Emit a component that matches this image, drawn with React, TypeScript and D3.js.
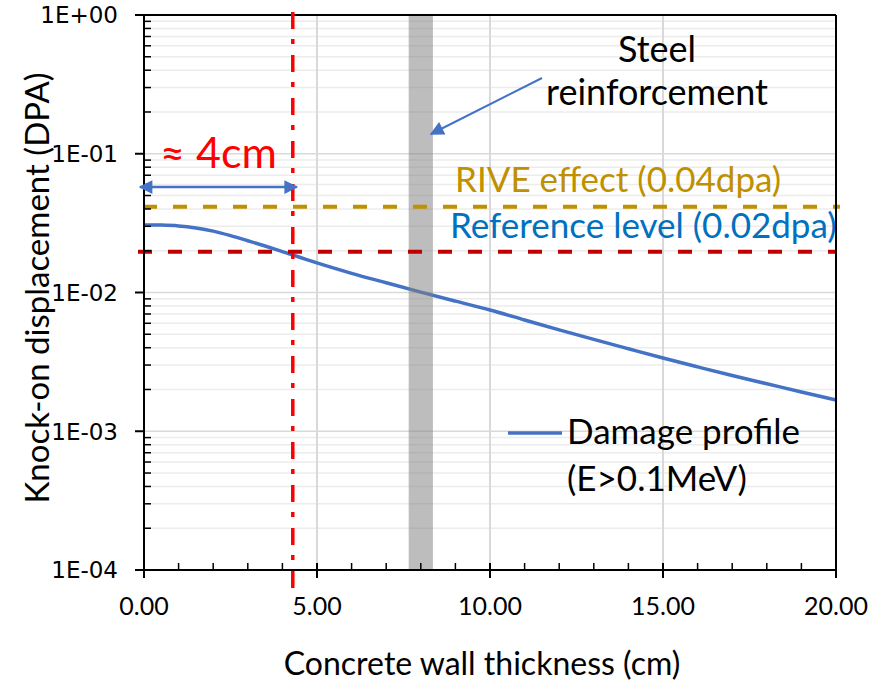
import React from 'react';
import * as d3 from 'd3';

const thickness = [0, 0.5, 1, 1.5, 2, 2.5, 3, 3.5, 4, 4.5, 5, 6, 7, 8, 9, 10, 11, 12, 13, 14, 15, 16, 17, 18, 19, 20];
const damage = [0.0307, 0.0306, 0.0302, 0.0292, 0.0277, 0.0257, 0.0236, 0.02163, 0.01972, 0.01795, 0.01633, 0.01374, 0.01175, 0.01007, 0.00867, 0.00748, 0.00634, 0.00538, 0.00459, 0.00393, 0.00337, 0.00291, 0.00252, 0.0022, 0.00192, 0.00168];
const xTicks = [0, 5, 10, 15, 20];
const xTickLabels = ['0.00', '5.00', '10.00', '15.00', '20.00'];
const yTicks = [1, 0.1, 0.01, 0.001, 0.0001];
const yTickLabels = ['1E+00', '1E-01', '1E-02', '1E-03', '1E-04'];
const rebarRange = [7.65, 8.35];
const rangeMarker = 4.3;
const riveLevel = 0.0415;
const refLevel = 0.0197;

const W = 881;
const H = 685;
const L = 144, R = 836, T = 15, B = 570;
const FONT = 'Lato, "Open Sans", sans-serif';

export default function App() {
  const x = d3.scaleLinear().domain([0, 20]).range([L, R]);
  const y = d3.scaleLog().domain([0.0001, 1]).range([B, T]);

  const minorY: number[] = [];
  for (let e = -4; e < 0; e++) {
    for (let m = 2; m <= 9; m++) minorY.push(m * Math.pow(10, e));
  }
  const minorX = d3.range(0, 21, 1).filter((v) => v % 5 !== 0);

  const line = d3
    .line<number>()
    .x((_, i) => x(thickness[i]))
    .y((d) => y(d))
    .curve(d3.curveMonotoneX);

  const blue = '#4472c4';

  return (
    <svg width={W} height={H} style={{ position: 'absolute', left: 0, top: 0, background: '#fff' }} fontFamily={FONT}>
      <defs>
        <marker id="ah" viewBox="0 0 10 10" refX="9" refY="5" markerWidth="6.5" markerHeight="5.5" orient="auto-start-reverse" markerUnits="strokeWidth">
          <path d="M0,0 L10,5 L0,10 z" fill={blue} />
        </marker>
        <marker id="ah2" viewBox="0 0 10 10" refX="9" refY="5" markerWidth="8" markerHeight="7" orient="auto" markerUnits="strokeWidth">
          <path d="M0,0 L10,5 L0,10 z" fill={blue} />
        </marker>
      </defs>
      <rect x={0} y={0} width={W} height={H} fill="#fff" />
      {minorY.map((v) => (
        <line key={'gy' + v} x1={L} x2={R} y1={y(v)} y2={y(v)} stroke="#ececec" strokeWidth={1.5} />
      ))}
      {yTicks.map((v) => (
        <line key={'gY' + v} x1={L} x2={R} y1={y(v)} y2={y(v)} stroke="#d9d9d9" strokeWidth={1.5} />
      ))}
      {xTicks.slice(1, -1).map((v) => (
        <line key={'gx' + v} x1={x(v)} x2={x(v)} y1={T} y2={B} stroke="#d9d9d9" strokeWidth={2} />
      ))}

      <path d={line(damage) || ''} fill="none" stroke={blue} strokeWidth={3.5} />

      <rect x={x(rebarRange[0])} y={T} width={x(rebarRange[1]) - x(rebarRange[0])} height={B - T} fill="#808080" opacity={0.52} />

      <line x1={x(0) - 1} x2={R + 4} y1={y(riveLevel)} y2={y(riveLevel)} stroke="#bf9000" strokeWidth={4} strokeDasharray="14 16" />
      <line x1={L - 6} x2={R} y1={y(refLevel)} y2={y(refLevel)} stroke="#c00000" strokeWidth={4} strokeDasharray="14 16" />

      <line x1={L} x2={L} y1={T} y2={B} stroke="#000" strokeWidth={2} />
      <line x1={L - 9} x2={R} y1={B} y2={B} stroke="#000" strokeWidth={2} />
      <line x1={L - 9} x2={R} y1={T} y2={T} stroke="#000" strokeWidth={2} />
      <line x1={R} x2={R} y1={T} y2={B + 8} stroke="#000" strokeWidth={2} />
      {yTicks.map((v) => (
        <line key={'ty' + v} x1={L - 9} x2={L} y1={y(v)} y2={y(v)} stroke="#000" strokeWidth={2} />
      ))}
      {minorY.map((v) => (
        <line key={'my' + v} x1={L} x2={L + 7} y1={y(v)} y2={y(v)} stroke="#000" strokeWidth={1.5} />
      ))}
      {xTicks.map((v) => (
        <line key={'tx' + v} x1={x(v)} x2={x(v)} y1={B - 7} y2={B + 8} stroke="#000" strokeWidth={2} />
      ))}
      {minorX.map((v) => (
        <line key={'mx' + v} x1={x(v)} x2={x(v)} y1={B - 7} y2={B} stroke="#000" strokeWidth={1.5} />
      ))}

      {yTicks.map((v, i) => (
        <text key={'ly' + v} x={L - 26} y={y(v)} dy="0.36em" textAnchor="end" fontSize={23} fontFamily='"DejaVu Sans", sans-serif' fill="#000">
          {yTickLabels[i]}
        </text>
      ))}
      {xTicks.map((v, i) => (
        <text key={'lx' + v} x={x(v)} y={615} textAnchor="middle" fontSize={25} fill="#000">
          {xTickLabels[i]}
        </text>
      ))}

      <text x={482} y={675} textAnchor="middle" fontSize={32} fill="#000">
        Concrete wall thickness (cm)
      </text>
      <text transform={`translate(49,288) rotate(-90)`} textAnchor="middle" fontSize={33} fill="#000">
        Knock-on displacement (DPA)
      </text>

      <line x1={x(rangeMarker)} x2={x(rangeMarker)} y1={T - 3} y2={588} stroke="#ff0000" strokeWidth={3.5} strokeDasharray="17 10 5 11" />
      <line x1={x(0) - 4} x2={x(rangeMarker) + 4} y1={187} y2={187} stroke={blue} strokeWidth={2.5} markerStart="url(#ah)" markerEnd="url(#ah)" />
      <text x={160} y={168} fontSize={43} fill="#ff0000">≈ 4cm</text>

      <line x1={542} x2={431} y1={78} y2={134} stroke={blue} strokeWidth={2} markerEnd="url(#ah2)" />
      <text x={657} y={62} textAnchor="middle" fontSize={36} fill="#000">Steel</text>
      <text x={657} y={105} textAnchor="middle" fontSize={36} fill="#000">reinforcement</text>

      <text x={455} y={192} fontSize={35} fill="#bf9000">RIVE effect (0.04dpa)</text>
      <text x={450} y={238} fontSize={35} fill="#0070c0">Reference level (0.02dpa)</text>

      <line x1={508} x2={562} y1={433} y2={433} stroke={blue} strokeWidth={3.5} />
      <text x={567} y={444} fontSize={35} fill="#000">Damage profile</text>
      <text x={567} y={491} fontSize={35} fill="#000">(E&gt;0.1MeV)</text>
    </svg>
  );
}
